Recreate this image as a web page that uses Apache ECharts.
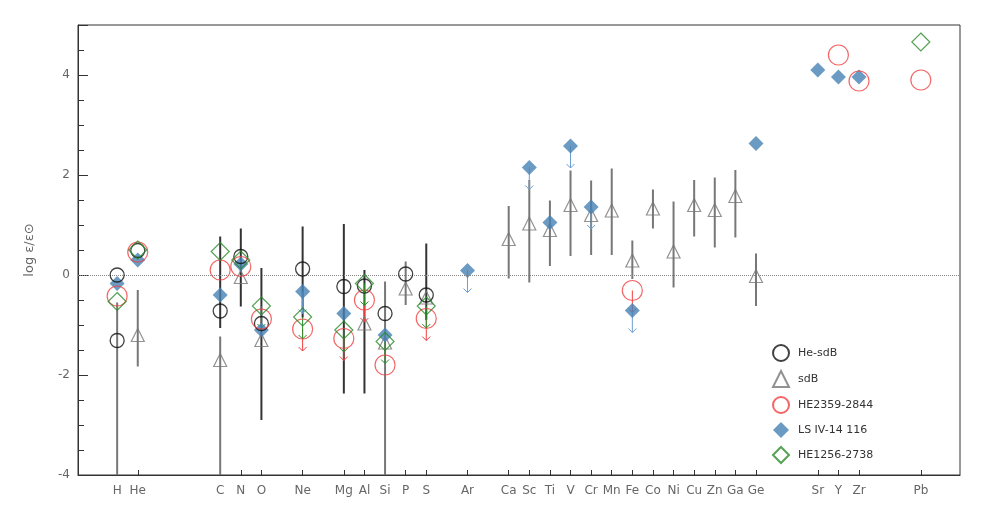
<!DOCTYPE html>
<html><head><meta charset="utf-8">
<script src="https://cdn.jsdelivr.net/npm/echarts@6/dist/echarts.min.js"></script>
<style>body{margin:0}#c{width:981px;height:526px}</style></head>
<body><div id="c"></div>
<script>
const elements = ['H','He','C','N','O','Ne','Mg','Al','Si','P','S','Ar','Ca','Sc','Ti','V','Cr','Mn','Fe','Co','Ni','Cu','Zn','Ga','Ge','Sr','Y','Zr','Pb'];
const positions = [1,2,6,7,8,10,12,13,14,15,16,18,20,21,22,23,24,25,26,27,28,29,30,31,32,35,36,37,40];
// [x, y]
const heSdB = [[1,0.0],[1,-1.31],[2,0.49],[6,-0.72],[7,0.37],[8,-0.97],[10,0.12],[12,-0.23],[13,-0.22],[14,-0.77],[15,0.02],[16,-0.4]];
const sdB = [[2,-1.2],[6,-1.7],[7,-0.04],[8,-1.3],[13,-0.97],[14,-1.35],[15,-0.27],[16,-0.45],[20,0.72],[21,1.03],[22,0.9],[23,1.4],[24,1.2],[25,1.29],[26,0.29],[27,1.33],[28,0.47],[29,1.4],[30,1.3],[31,1.58],[32,-0.02]];
const he2359 = [[1,-0.42],[2,0.46],[6,0.1],[7,0.17],[8,-0.88],[10,-1.08],[12,-1.27],[13,-0.5],[14,-1.8],[16,-0.87],[26,-0.31],[36,4.4],[37,3.88],[40,3.9]];
const lsIV = [[1,-0.17],[2,0.3],[6,-0.4],[7,0.22],[8,-1.1],[10,-0.33],[12,-0.77],[14,-1.2],[18,0.09],[21,2.15],[22,1.05],[23,2.58],[24,1.36],[26,-0.71],[32,2.63],[35,4.1],[36,3.96],[37,3.96]];
const he1256 = [[1,-0.53],[2,0.5],[6,0.47],[7,0.3],[8,-0.62],[10,-0.84],[12,-1.1],[13,-0.17],[14,-1.33],[16,-0.62],[40,4.66]];
// upper-limit arrows [x, y]
const redLimits = [[10,-1.08],[12,-1.27],[13,-0.5],[16,-0.87],[26,-0.31]];
const blueLimits = [[10,-0.33],[18,0.09],[21,2.15],[23,2.58],[24,1.36],[26,-0.71]];
const greenLimits = [[8,-0.62],[10,-0.84],[12,-1.1],[13,-0.17],[14,-1.33],[16,-0.62]];
// error bars [x, low, high]
const barsDark = [[6,-1.06,0.77],[7,-0.63,0.93],[8,-2.9,0.14],[10,-0.85,0.97],[12,-2.37,1.02],[13,-2.37,0.1],[16,-0.9,0.63]];
const barsGrey = [[1,-4,-0.55],[2,-1.83,-0.3],[6,-4,-1.23],[14,-4,-0.13],[15,-0.6,0.27],[20,-0.07,1.38],[21,-0.15,1.9],[22,0.18,1.49],[23,0.38,2.09],[24,0.4,1.89],[25,0.4,2.13],[26,-0.08,0.69],[27,0.93,1.71],[28,-0.25,1.47],[29,0.77,1.9],[30,0.55,1.95],[31,0.75,2.1],[32,-0.62,0.43]];

const chart = echarts.init(document.getElementById('c'));
function barSeries(data, color){
  return {type:'custom', data, z:1, silent:true,
    renderItem(p, api){
      const a = api.coord([api.value(0), api.value(1)]);
      const b = api.coord([api.value(0), api.value(2)]);
      return {type:'line', shape:{x1:a[0],y1:a[1],x2:b[0],y2:b[1]}, style:{stroke:color, lineWidth:2}};
    }};
}
function arrowSeries(data, color){
  return {type:'custom', data, z:2, silent:true,
    renderItem(p, api){
      const a = api.coord([api.value(0), api.value(1)]);
      const x=a[0], y=a[1], L=22;
      return {type:'group', children:[
        {type:'line', shape:{x1:x,y1:y,x2:x,y2:y+L}, style:{stroke:color,lineWidth:1}},
        {type:'polyline', shape:{points:[[x-4,y+L-4],[x,y+L],[x+4,y+L-4]]}, style:{stroke:color,lineWidth:1,fill:null}}
      ]};
    }};
}
const names = {};
positions.forEach((p,i)=>names[p]=elements[i]);
chart.setOption({
  animation:false,
  textStyle:{fontFamily:'DejaVu Sans'},
  grid:{left:78,right:21,top:25,bottom:51,show:true,borderColor:'#333',borderWidth:1},
  xAxis:{type:'value',min:-0.9,max:41.9,splitLine:{show:false},
    axisLine:{onZero:false,lineStyle:{color:'#333'}},
    axisTick:{inside:true,length:5,customValues:positions,lineStyle:{color:'#333'}},
    axisLabel:{customValues:positions,formatter:v=>names[v]||'',color:'#666',fontSize:12,margin:10}},
  yAxis:{type:'value',min:-4,max:5,interval:2,splitLine:{show:false},
    name:'log ε/ε\u2299',nameLocation:'middle',nameGap:42,nameTextStyle:{color:'#666',fontSize:13},
    axisLine:{show:true,onZero:false,lineStyle:{color:'#333'}},
    axisTick:{inside:true,length:10,lineStyle:{color:'#333'}},
    minorTick:{show:true,splitNumber:4,length:6,lineStyle:{color:'#333'}},
    axisLabel:{color:'#666',fontSize:12,formatter:v=>v>4?'':v}},
  legend:{orient:'vertical',left:767,top:339,itemGap:8,itemWidth:16,itemHeight:16,
    textStyle:{color:'#333',fontSize:11,padding:[0,0,0,4]},
    data:['He-sdB','sdB','HE2359-2844','LS IV-14 116','HE1256-2738']},
  series:[
    barSeries(barsGrey,'#777'),
    barSeries(barsDark,'#333'),
    arrowSeries(redLimits,'#f04040'),
    arrowSeries(blueLimits,'#6a9fd0'),
    arrowSeries(greenLimits,'#2a8a2a'),
    {name:'sdB',type:'scatter',data:sdB,symbol:'triangle',symbolSize:13,z:3,
      itemStyle:{color:'rgba(255,255,255,0)',borderColor:'#777',borderWidth:1.2},
      markLine:{silent:true,symbol:'none',label:{show:false},lineStyle:{color:'#888',type:'dotted',width:1},data:[{yAxis:0}]}},
    {name:'LS IV-14 116',type:'scatter',data:lsIV,symbol:'diamond',symbolSize:15,z:4,
      itemStyle:{color:'#4682b4'}},
    {name:'He-sdB',type:'scatter',data:heSdB,symbol:'circle',symbolSize:14,z:5,
      itemStyle:{color:'rgba(255,255,255,0)',borderColor:'#111',borderWidth:1.3}},
    {name:'HE2359-2844',type:'scatter',data:he2359,symbol:'circle',symbolSize:20,z:5,
      itemStyle:{color:'rgba(255,255,255,0)',borderColor:'#f04040',borderWidth:1.2}},
    {name:'HE1256-2738',type:'scatter',data:he1256,symbol:'diamond',symbolSize:18,z:5,
      itemStyle:{color:'rgba(255,255,255,0)',borderColor:'#2a8a2a',borderWidth:1.2}}
  ]
});
</script></body></html>
